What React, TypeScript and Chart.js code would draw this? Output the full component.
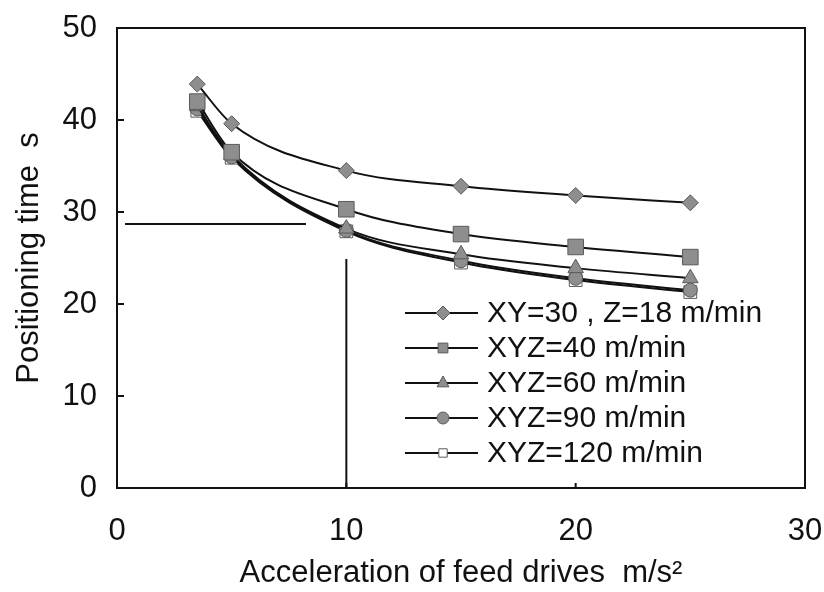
import React, { useEffect, useRef } from "react";
import { Chart, registerables } from "chart.js";

Chart.register(...registerables);

const xValues = [3.5, 5, 10, 15, 20, 25];
const seriesNames = [
  "XY=30 , Z=18 m/min",
  "XYZ=40 m/min",
  "XYZ=60 m/min",
  "XYZ=90 m/min",
  "XYZ=120 m/min",
];
const s1 = [43.9, 39.6, 34.5, 32.8, 31.8, 31.0];
const s2 = [42.0, 36.5, 30.3, 27.6, 26.2, 25.1];
const s3 = [41.5, 36.2, 28.2, 25.4, 23.9, 22.8];
const s4 = [41.2, 36.0, 28.0, 24.7, 22.8, 21.5];
const s5 = [41.0, 35.9, 27.9, 24.5, 22.6, 21.3];
const xTicks = [0, 10, 20, 30];
const yTicks = [0, 10, 20, 30, 40, 50];
const hLineX = [0.35, 8.24];
const hLineY = 28.7;
const vLineX = 10;
const vLineY = [0, 24.9];

const FONT = "'Liberation Sans', Arial, Helvetica, sans-serif";
const MARK_FILL = "#8e8e8e";
const MARK_EDGE = "#5a5a5a";

const styles = [
  { pointStyle: "rectRot", radius: 8, fill: MARK_FILL },
  { pointStyle: "rect", radius: 11, fill: MARK_FILL },
  { pointStyle: "triangle", radius: 9, fill: MARK_FILL },
  { pointStyle: "circle", radius: 7, fill: MARK_FILL },
  { pointStyle: "rect", radius: 9, fill: "#ffffff" },
];

function drawMarker(ctx: CanvasRenderingContext2D, style: string, x: number, y: number, size: number) {
  ctx.beginPath();
  if (style === "rectRot") {
    ctx.moveTo(x, y - size);
    ctx.lineTo(x + size, y);
    ctx.lineTo(x, y + size);
    ctx.lineTo(x - size, y);
    ctx.closePath();
  } else if (style === "rect") {
    ctx.rect(x - size * 0.7, y - size * 0.7, size * 1.4, size * 1.4);
  } else if (style === "triangle") {
    ctx.moveTo(x, y - size);
    ctx.lineTo(x + size * 0.85, y + size * 0.55);
    ctx.lineTo(x - size * 0.85, y + size * 0.55);
    ctx.closePath();
  } else {
    ctx.arc(x, y, size, 0, Math.PI * 2);
  }
  ctx.fill();
  ctx.stroke();
}

const framePlugin = {
  id: "frame",
  afterDraw(chart: any) {
    const { ctx, chartArea } = chart;
    const xs = chart.scales.x;
    const ys = chart.scales.y;
    ctx.save();
    ctx.strokeStyle = "#111";
    ctx.lineWidth = 2;
    ctx.strokeRect(chartArea.left, chartArea.top, chartArea.right - chartArea.left, chartArea.bottom - chartArea.top);
    ctx.beginPath();
    yTicks.slice(1, -1).forEach((v) => {
      const y = ys.getPixelForValue(v);
      ctx.moveTo(chartArea.left, y);
      ctx.lineTo(chartArea.left + 7, y);
    });
    xTicks.slice(1, -1).forEach((v) => {
      const x = xs.getPixelForValue(v);
      ctx.moveTo(x, chartArea.bottom);
      ctx.lineTo(x, chartArea.bottom - 5);
    });
    ctx.stroke();

    // legend
    const x0 = 405;
    const lineLen = 73;
    const rowY0 = 313;
    const rowGap = 35;
    ctx.font = `30px ${FONT}`;
    ctx.textBaseline = "middle";
    seriesNames.forEach((name, i) => {
      const y = rowY0 + i * rowGap;
      ctx.beginPath();
      ctx.strokeStyle = "#111";
      ctx.lineWidth = 2;
      ctx.moveTo(x0, y);
      ctx.lineTo(x0 + lineLen, y);
      ctx.stroke();
      const st = styles[i];
      ctx.fillStyle = st.fill;
      ctx.strokeStyle = MARK_EDGE;
      ctx.lineWidth = 1;
      const sizes = [7, 7, 7, 6, 6];
      drawMarker(ctx, st.pointStyle, x0 + 38, y, sizes[i]);
      ctx.fillStyle = "#111";
      ctx.fillText(name, x0 + lineLen + 9, y + 1);
    });
    ctx.restore();
  },
};

export default function App() {
  const ref = useRef<HTMLCanvasElement | null>(null);
  useEffect(() => {
    document.body.style.margin = "0";
    const series = [s1, s2, s3, s4, s5];
    const datasets: any[] = series.map((s, i) => ({
      label: seriesNames[i],
      data: xValues.map((x, j) => ({ x, y: s[j] })),
      borderColor: "#111",
      borderWidth: 2,
      cubicInterpolationMode: "monotone",
      pointStyle: styles[i].pointStyle,
      pointRadius: styles[i].radius,
      pointBackgroundColor: styles[i].fill,
      pointBorderColor: MARK_EDGE,
      pointBorderWidth: 1,
    }));
    datasets.push({
      label: "h",
      data: [
        { x: hLineX[0], y: hLineY },
        { x: hLineX[1], y: hLineY },
      ],
      borderColor: "#111",
      borderWidth: 2,
      pointRadius: 0,
    });
    datasets.push({
      label: "v",
      data: [
        { x: vLineX, y: vLineY[0] },
        { x: vLineX, y: vLineY[1] },
      ],
      borderColor: "#111",
      borderWidth: 2,
      pointRadius: 0,
    });
    const chart = new Chart(ref.current as HTMLCanvasElement, {
      type: "line",
      data: { datasets },
      plugins: [framePlugin],
      options: {
        responsive: false,
        animation: false,
        layout: { padding: { top: 28, right: 19, left: 0, bottom: 0 } },
        plugins: { legend: { display: false }, tooltip: { enabled: false } },
        scales: {
          x: {
            type: "linear",
            min: 0,
            max: 30,
            afterBuildTicks: (s: any) => {
              s.ticks = xTicks.map((v) => ({ value: v }));
            },
            afterFit: (s: any) => {
              s.height = 104;
              s.paddingLeft = 0;
              s.paddingRight = 0;
              s.paddingTop = 0;
              s.paddingBottom = 0;
            },
            grid: { display: false, drawTicks: false },
            border: { display: false },
            ticks: { color: "#111", font: { family: FONT, size: 31 }, padding: 25, maxRotation: 0 },
            title: {
              display: true,
              text: "Acceleration of feed drives  m/s²",
              color: "#111",
              font: { family: FONT, size: 31 },
              padding: { top: 0, bottom: 0 },
            },
          },
          y: {
            type: "linear",
            min: 0,
            max: 50,
            afterBuildTicks: (s: any) => {
              s.ticks = yTicks.map((v) => ({ value: v }));
            },
            afterFit: (s: any) => {
              s.width = 117;
              s.paddingLeft = 0;
              s.paddingRight = 0;
              s.paddingTop = 0;
              s.paddingBottom = 0;
            },
            grid: { display: false, drawTicks: false },
            border: { display: false },
            ticks: { color: "#111", font: { family: FONT, size: 31 }, padding: 20 },
            title: {
              display: true,
              text: "Positioning time  s",
              color: "#111",
              font: { family: FONT, size: 31 },
              padding: { top: 11, bottom: 0 },
            },
          },
        },
      } as any,
    });
    return () => chart.destroy();
  }, []);
  return (
    <div style={{ position: "fixed", left: 0, top: 0, width: 824, height: 592, background: "#fff" }}>
      <canvas ref={ref} width={824} height={592} />
    </div>
  );
}
